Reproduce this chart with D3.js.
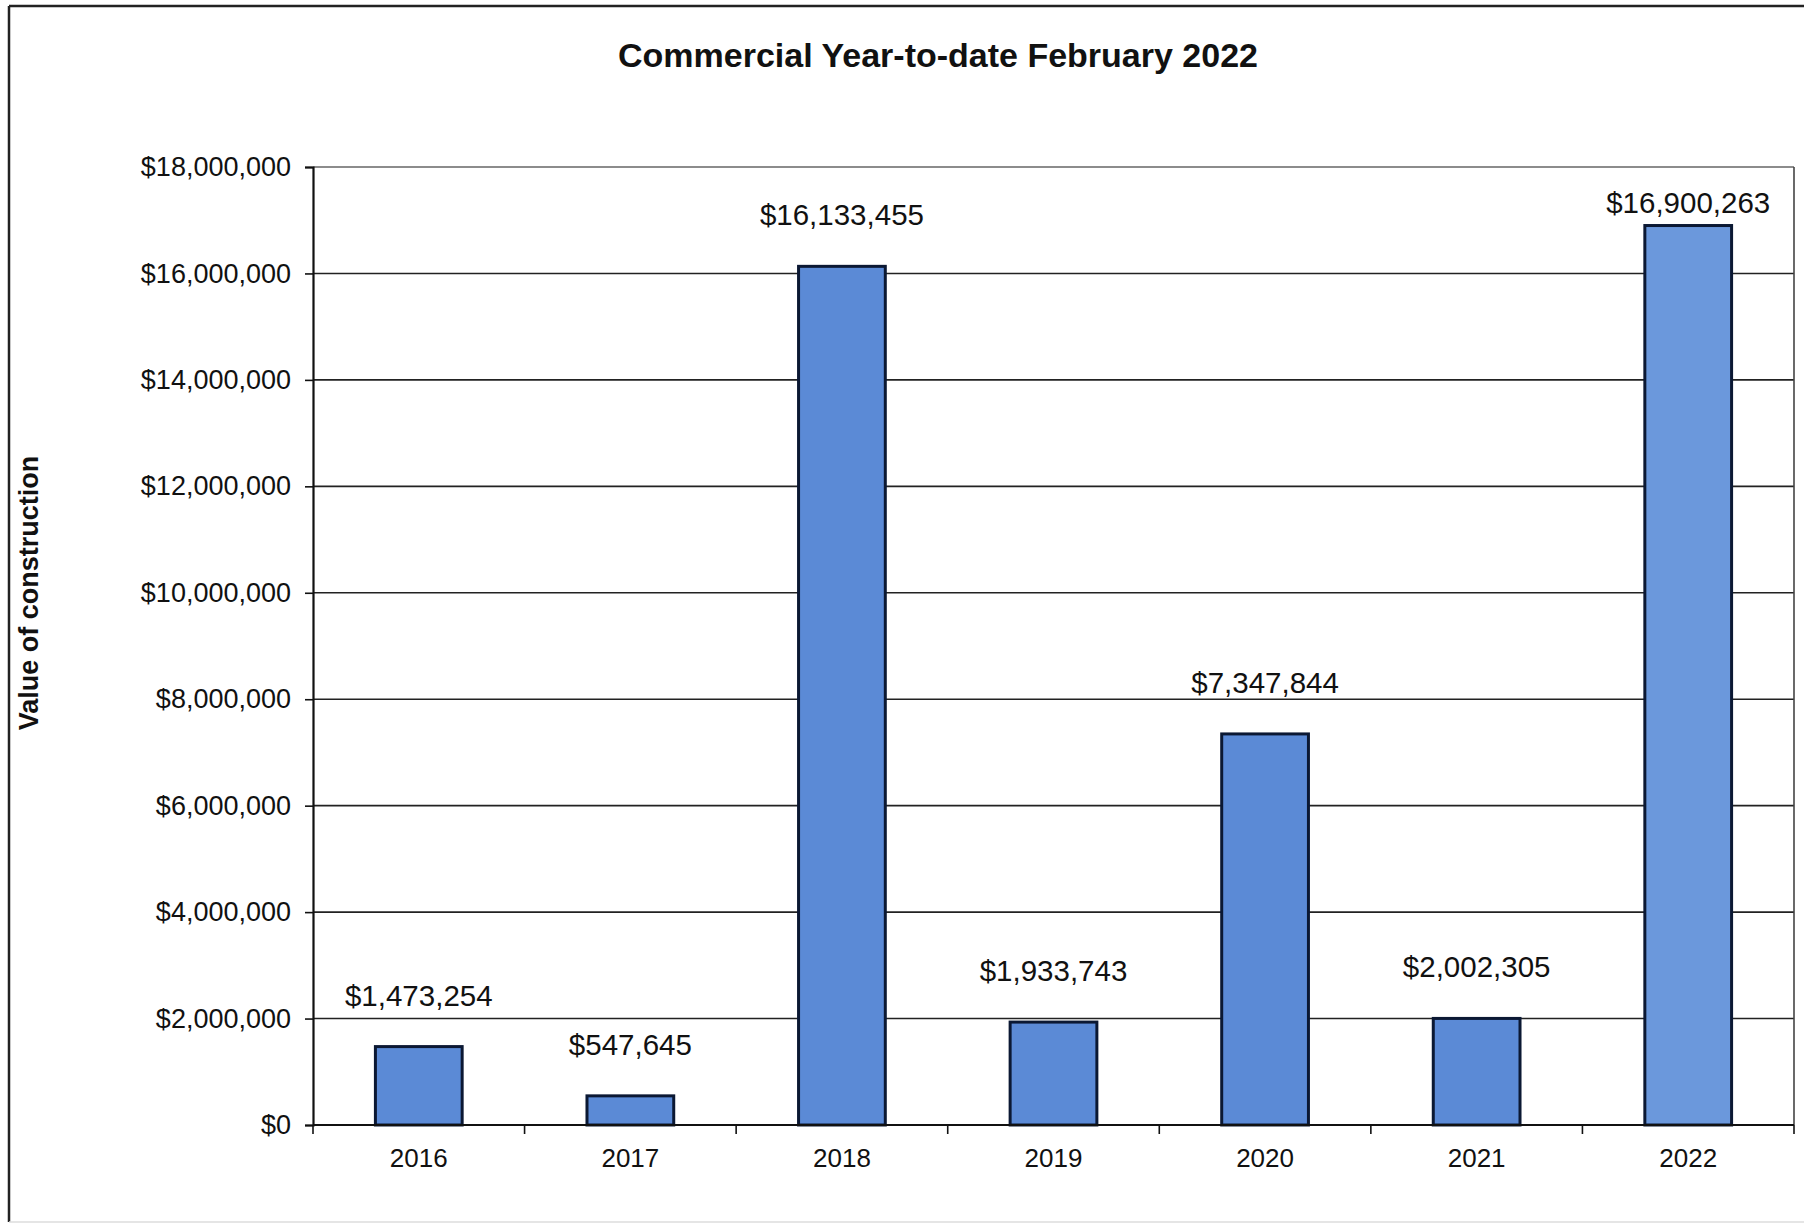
<!DOCTYPE html>
<html lang="en">
<head>
    <meta charset="UTF-8">
    <title>Commercial Year-to-date February 2022</title>
    <script src="https://d3js.org/d3.v7.min.js"></script>
    <style>
        body { margin: 0; background: #fff; }
        svg { display: block; font-family: "Liberation Sans", Arial, sans-serif; }
    </style>
</head>
<body>
    <div id="chart"></div>
    <script>
        // Chart data
        const years = ['2016', '2017', '2018', '2019', '2020', '2021', '2022'];
        const values = [1473254, 547645, 16133455, 1933743, 7347844, 2002305, 16900263];
        const yTicks = [0, 2000000, 4000000, 6000000, 8000000, 10000000, 12000000, 14000000, 16000000, 18000000];

        const width = 1804;
        const height = 1226;
        const margin = { top: 167, right: 10, bottom: 101, left: 313 };
        const plotW = width - margin.left - margin.right;
        const plotH = height - margin.top - margin.bottom;

        const svg = d3.select('#chart')
            .append('svg')
            .attr('width', width)
            .attr('height', height);

        // outer frame of the scanned sheet
        svg.append('line').attr('x1', 9).attr('x2', 9).attr('y1', 6).attr('y2', 1222)
            .attr('stroke', '#222').attr('stroke-width', 2.5);
        svg.append('line').attr('x1', 9).attr('x2', width).attr('y1', 6).attr('y2', 6)
            .attr('stroke', '#222').attr('stroke-width', 2.5);
        svg.append('line').attr('x1', 9).attr('x2', width).attr('y1', 1222).attr('y2', 1222)
            .attr('stroke', '#ddd').attr('stroke-width', 1.5);

        // title
        svg.append('text')
            .attr('x', 938)
            .attr('y', 67)
            .attr('text-anchor', 'middle')
            .attr('font-size', '34px')
            .attr('font-weight', 'bold')
            .attr('fill', '#111')
            .text('Commercial Year-to-date February 2022');

        // y axis title
        svg.append('text')
            .attr('transform', 'translate(38,593) rotate(-90)')
            .attr('text-anchor', 'middle')
            .attr('font-size', '27px')
            .attr('font-weight', 'bold')
            .attr('fill', '#111')
            .text('Value of construction');

        const g = svg.append('g').attr('transform', `translate(${margin.left},${margin.top})`);

        const x = d3.scaleBand()
            .domain(years)
            .range([0, plotW])
            .paddingInner(0.59)
            .paddingOuter(0.295);

        const y = d3.scaleLinear()
            .domain([0, 18000000])
            .range([plotH, 0]);

        // gridlines
        g.append('g')
            .selectAll('line')
            .data(yTicks)
            .enter().append('line')
            .attr('x1', 0)
            .attr('x2', plotW)
            .attr('y1', d => y(d))
            .attr('y2', d => y(d))
            .attr('stroke', d => d === 18000000 ? '#666' : '#222')
            .attr('stroke-width', 1.6);

        // right border of plot area
        g.append('line')
            .attr('x1', plotW).attr('x2', plotW)
            .attr('y1', 0).attr('y2', plotH)
            .attr('stroke', '#444').attr('stroke-width', 1.6);

        // bars
        g.append('g')
            .selectAll('rect')
            .data(values)
            .enter().append('rect')
            .attr('x', (d, i) => x(years[i]))
            .attr('y', d => y(d))
            .attr('width', x.bandwidth())
            .attr('height', d => plotH - y(d))
            .attr('fill', (d, i) => i === values.length - 1 ? '#6b98dc' : '#5b8ad6')
            .attr('stroke', '#0b1833')
            .attr('stroke-width', 3);

        // data labels (kept inside the plot area)
        g.append('g')
            .selectAll('text')
            .data(values)
            .enter().append('text')
            .attr('x', (d, i) => x(years[i]) + x.bandwidth() / 2)
            .attr('y', d => Math.max(y(d) - 41, 46))
            .attr('text-anchor', 'middle')
            .attr('font-size', '29.5px')
            .attr('fill', '#111')
            .text(d => '$' + d3.format(',')(d));

        // y axis
        const yAxis = g.append('g')
            .call(d3.axisLeft(y)
                .tickValues(yTicks)
                .tickSize(8)
                .tickPadding(14)
                .tickFormat(d => '$' + d3.format(',')(d)));
        yAxis.select('.domain').attr('stroke', '#111').attr('stroke-width', 2.2);
        yAxis.selectAll('.tick line').attr('stroke', '#111').attr('stroke-width', 1.6);
        yAxis.selectAll('.tick text')
            .attr('font-size', '27px')
            .attr('fill', '#111')
            .attr('font-family', '"Liberation Sans", Arial, sans-serif');

        // x axis with ticks between categories
        const xAxis = g.append('g').attr('transform', `translate(0,${plotH})`);
        xAxis.append('line')
            .attr('x1', 0).attr('x2', plotW)
            .attr('stroke', '#111').attr('stroke-width', 2.2);
        xAxis.selectAll('.sep')
            .data(d3.range(years.length + 1))
            .enter().append('line')
            .attr('class', 'sep')
            .attr('x1', i => i * x.step())
            .attr('x2', i => i * x.step())
            .attr('y1', 0)
            .attr('y2', 9)
            .attr('stroke', '#111')
            .attr('stroke-width', 1.6);
        xAxis.selectAll('.year')
            .data(years)
            .enter().append('text')
            .attr('class', 'year')
            .attr('x', d => x(d) + x.bandwidth() / 2)
            .attr('y', 42)
            .attr('text-anchor', 'middle')
            .attr('font-size', '26px')
            .attr('fill', '#111')
            .text(d => d);
    </script>
</body>
</html>
